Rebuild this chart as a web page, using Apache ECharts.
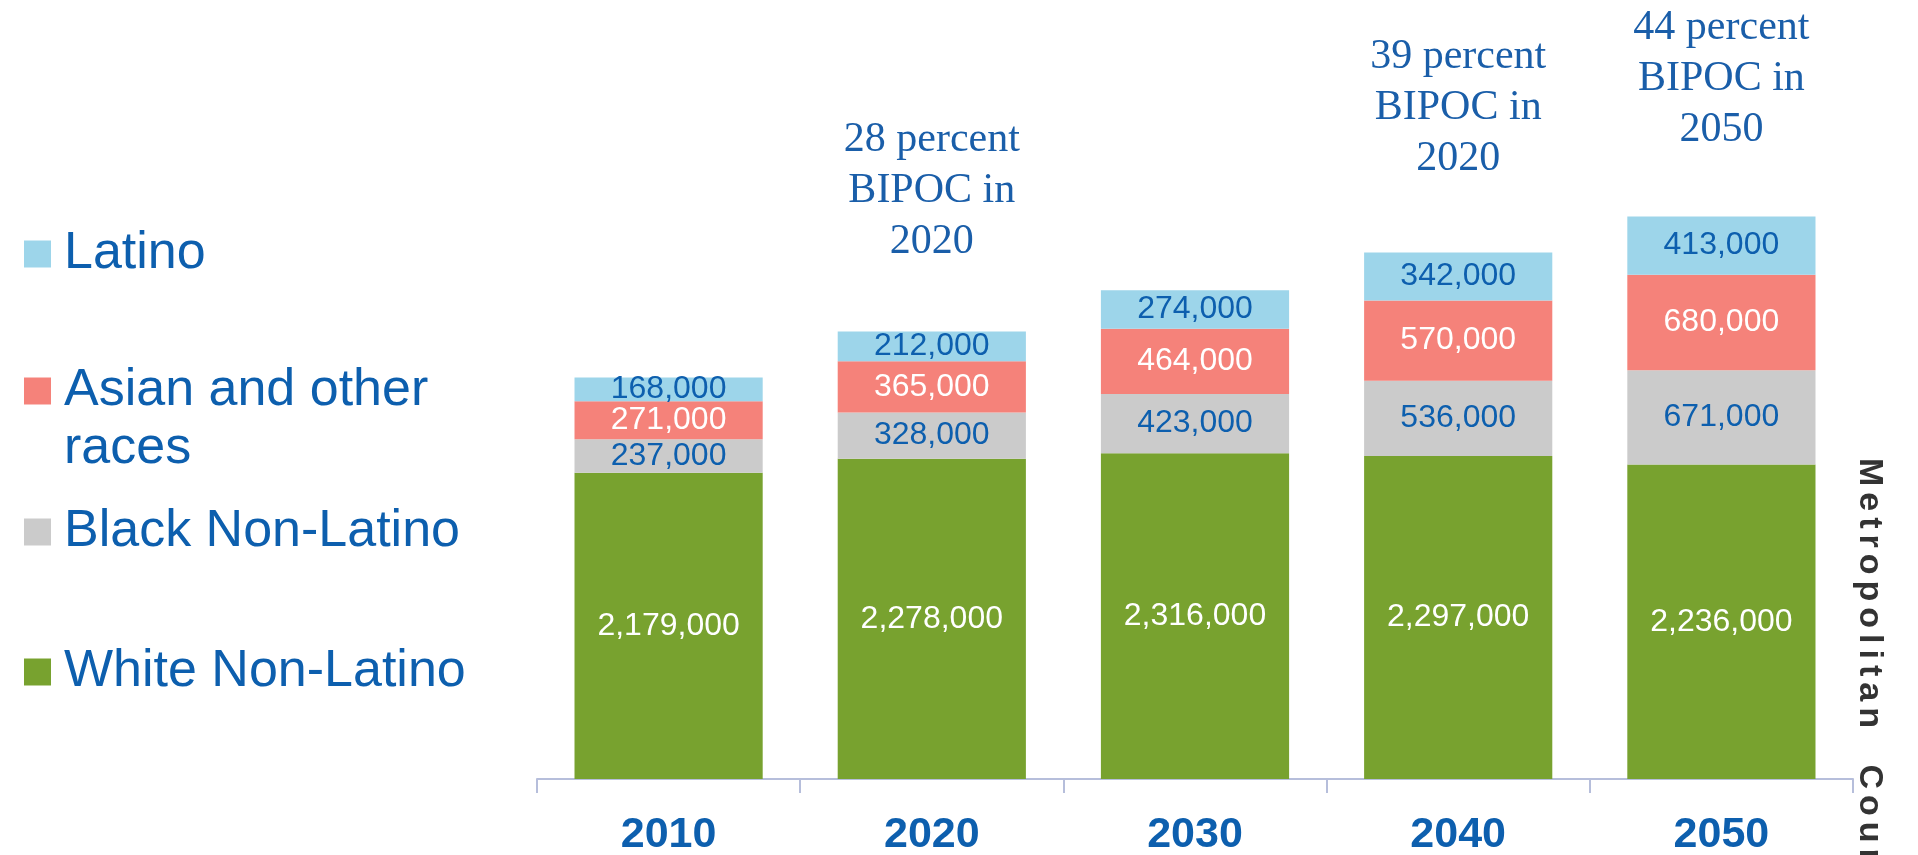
<!DOCTYPE html>
<html>
<head>
<meta charset="utf-8">
<title>Population by race and ethnicity</title>
<script src="https://cdn.jsdelivr.net/npm/echarts@6/dist/echarts.min.js"></script>
<style>
  html, body { margin: 0; padding: 0; background: #fff; overflow: hidden; }
  #grafico { width: 1918px; height: 855px; }
  #lateral {
    position: absolute; left: 1852px; top: 458px; width: 40px; line-height: 40px;
    writing-mode: vertical-rl; white-space: nowrap;
    font-family: 'Liberation Sans', Arial, sans-serif; font-weight: bold; font-size: 34px;
    letter-spacing: 6px; word-spacing: 15px; color: #333;
  }
</style>
</head>
<body>
<div id="grafico"></div>
<div id="lateral">Metropolitan Council</div>
<script>
// --- dados ---
var anos = ['2010', '2020', '2030', '2040', '2050'];
var brancos = [2179000, 2278000, 2316000, 2297000, 2236000];
var negros = [237000, 328000, 423000, 536000, 671000];
var asiaticos = [271000, 365000, 464000, 570000, 680000];
var latinos = [168000, 212000, 274000, 342000, 413000];
var notas = ['', '28 percent\nBIPOC in\n2020', '', '39 percent\nBIPOC in\n2020', '44 percent\nBIPOC in\n2050'];
var notasBase = [0, 0, 0, 0, 0];
var nomes = ['Latino', 'Asian and other\nraces', 'Black Non-Latino', 'White Non-Latino'];

// distancia de cada nota ate o topo da barra
var notasDist = [68, 64, 68, 68, 61];

var azul = '#0d5fae';
var fonte = "'Liberation Sans', Arial, sans-serif";

function fmt(v) {
    return String(v).replace(/\B(?=(\d{3})+(?!\d))/g, ',');
}

function rotulo(cor) {
    return {
        show: true, position: 'inside', color: cor,
        fontFamily: fonte, fontSize: 32,
        formatter: function (p) { return fmt(p.value); }
    };
}

function legenda(nome, topo, alturaLinha) {
    return {
        data: [nome], orient: 'vertical', left: 24, top: topo, padding: 0,
        icon: 'rect', itemWidth: 27, itemHeight: 27, selectedMode: false,
        // item de duas linhas: linha vazia antes, para a primeira linha ficar alinhada ao quadrado
        formatter: function (n) { return n.indexOf('\n') >= 0 ? '\n' + n : n; },
        textStyle: { color: azul, fontFamily: fonte, fontSize: 52, lineHeight: alturaLinha, padding: [0, 0, 0, 8] }
    };
}

var grafico = echarts.init(document.getElementById('grafico'));

var dadosNotas = notasBase.map(function (v, i) {
    return { value: v, label: { distance: notasDist[i] } };
});

var option = {
    animation: false,
    backgroundColor: '#fff',
    legend: [
        legenda(nomes[0], 228, 50),
        legenda(nomes[1], 304, 58),
        legenda(nomes[2], 506, 50),
        legenda(nomes[3], 646, 50)
    ],
    grid: { left: 537, right: 65, top: 76, bottom: 76, containLabel: false, outerBoundsMode: 'none' },
    xAxis: {
        type: 'category', data: anos,
        axisLine: { lineStyle: { color: '#b6bedb', width: 2 } },
        axisTick: { show: true, length: 14, lineStyle: { color: '#b6bedb', width: 2 } },
        axisLabel: { color: azul, fontFamily: fonte, fontSize: 43, fontWeight: 'bold', margin: 35 }
    },
    yAxis: { type: 'value', min: 0, max: 5000000, show: false, splitLine: { show: false } },
    series: [
        { name: nomes[3], type: 'bar', stack: 'total', stackStrategy: 'all', barWidth: '71.5%',
          data: brancos, itemStyle: { color: '#78a22f' }, label: rotulo('#fff') },
        { name: nomes[2], type: 'bar', stack: 'total', stackStrategy: 'all',
          data: negros, itemStyle: { color: '#cbcbcb' }, label: rotulo(azul) },
        { name: nomes[1], type: 'bar', stack: 'total', stackStrategy: 'all',
          data: asiaticos, itemStyle: { color: '#f5827a' }, label: rotulo('#fff') },
        { name: nomes[0], type: 'bar', stack: 'total', stackStrategy: 'all',
          data: latinos, itemStyle: { color: '#9dd5ea' }, label: rotulo(azul) },
        { name: 'notas', type: 'bar', stack: 'total', stackStrategy: 'all',
          data: dadosNotas, itemStyle: { color: 'transparent' },
          label: {
              show: true, position: 'top', align: 'center',
              color: '#1a5ea9', fontFamily: "'Liberation Serif', 'Times New Roman', serif",
              fontSize: 42, lineHeight: 51,
              formatter: function (p) { return notas[p.dataIndex]; }
          } }
    ]
};

grafico.setOption(option);
</script>
</body>
</html>
